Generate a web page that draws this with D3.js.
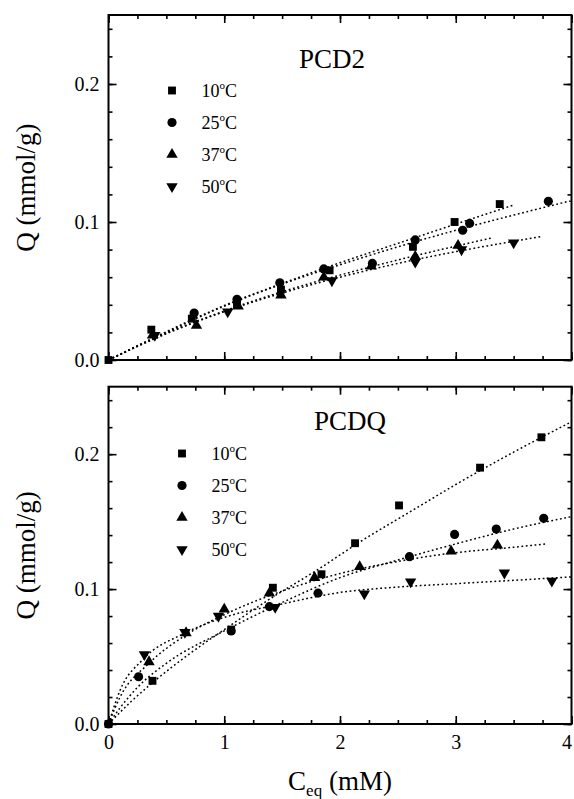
<!DOCTYPE html>
<html>
<head>
<meta charset="utf-8">
<script src="https://cdn.jsdelivr.net/npm/d3@7"></script>
<style>
    body { margin: 0; background: #fff; }
    svg { display: block; font-family: "Liberation Serif", "Times New Roman", serif; }
    svg text { font-family: "Liberation Serif", "Times New Roman", serif; }
</style>
</head>
<body>
<svg id="chart" width="574" height="799"></svg>
<script>
// series labels (temperature, degrees C)
const temps = ['10', '25', '37', '50'];

// PCD2 measured points [Ceq (mM), Q (mmol/g)]
const pcd2_10 = [[0, 0], [0.37, 0.022], [0.72, 0.030], [1.11, 0.040], [1.49, 0.051], [1.91, 0.065], [2.63, 0.082], [2.99, 0.100], [3.38, 0.113]];
const pcd2_25 = [[0.74, 0.034], [1.11, 0.044], [1.48, 0.056], [1.86, 0.066], [2.28, 0.070], [2.65, 0.087], [3.06, 0.094], [3.12, 0.099], [3.80, 0.115]];
const pcd2_37 = [[0.38, 0.018], [0.76, 0.025], [1.12, 0.039], [1.49, 0.047], [1.86, 0.060], [2.27, 0.068], [2.65, 0.075], [3.02, 0.083]];
const pcd2_50 = [[0.40, 0.018], [1.03, 0.035], [1.93, 0.0575], [2.65, 0.071], [3.05, 0.080], [3.50, 0.085]];

// PCD2 fitted curves
const pcd2Fit_10 = [[0, 0], [0.5, 0.0205], [1, 0.0395], [1.5, 0.0555], [2, 0.0705], [2.5, 0.0845], [3, 0.0985], [3.5, 0.1123]];
const pcd2Fit_25 = [[0, 0], [0.5, 0.020], [1, 0.039], [1.5, 0.055], [2, 0.069], [2.5, 0.082], [3, 0.094], [3.5, 0.105], [4, 0.1155]];
const pcd2Fit_37 = [[0, 0], [0.5, 0.0195], [1, 0.0355], [1.5, 0.0495], [2, 0.0615], [2.5, 0.0725], [3, 0.0825], [3.32, 0.0886]];
const pcd2Fit_50 = [[0, 0], [0.5, 0.019], [1, 0.035], [1.5, 0.0485], [2, 0.060], [2.5, 0.070], [3, 0.0785], [3.5, 0.086], [3.73, 0.0894]];

// PCDQ measured points
const pcdq_10 = [[0, 0], [0.38, 0.032], [1.06, 0.070], [1.42, 0.101], [1.84, 0.111], [2.13, 0.134], [2.51, 0.162], [3.21, 0.190], [3.74, 0.2125]];
const pcdq_25 = [[0, 0], [0.26, 0.035], [1.06, 0.069], [1.39, 0.087], [1.81, 0.097], [2.60, 0.124], [2.99, 0.1405], [3.35, 0.1445], [3.76, 0.1525]];
const pcdq_37 = [[0.35, 0.046], [0.67, 0.0675], [1.0, 0.085], [1.39, 0.097], [1.78, 0.1085], [2.17, 0.1165], [2.96, 0.128], [3.36, 0.1325]];
const pcdq_50 = [[0.31, 0.0515], [0.66, 0.068], [0.95, 0.080], [1.44, 0.0865], [2.21, 0.0965], [2.61, 0.1055], [3.42, 0.112], [3.83, 0.106]];

// PCDQ fitted curves
const pcdqFit_10 = [[0, 0], [0.2, 0.017], [0.4, 0.032], [0.7, 0.052], [1.0, 0.070], [1.4, 0.093], [1.8, 0.114], [2.2, 0.1365], [2.6, 0.157], [3.0, 0.1775], [3.5, 0.2015], [4.0, 0.224]];
const pcdqFit_25 = [[0, 0], [0.1, 0.012], [0.26, 0.028], [0.5, 0.045], [1.0, 0.069], [1.5, 0.090], [2.0, 0.1085], [2.5, 0.1215], [3.0, 0.1335], [3.5, 0.1445], [4.0, 0.1537]];
const pcdqFit_37 = [[0, 0], [0.1, 0.020], [0.35, 0.045], [0.67, 0.066], [1.0, 0.081], [1.5, 0.0985], [2.0, 0.1115], [2.5, 0.1205], [3.0, 0.127], [3.5, 0.131], [3.78, 0.1335]];
const pcdqFit_50 = [[0, 0], [0.1, 0.025], [0.3, 0.048], [0.65, 0.067], [1.0, 0.079], [1.5, 0.089], [2.0, 0.0975], [2.5, 0.1015], [3.0, 0.104], [3.5, 0.1065], [4.0, 0.109]];

const xTicks = [0, 1, 2, 3, 4];
const yTicks = [0, 0.1, 0.2];

const svg = d3.select('#chart');

const x = d3.scaleLinear().domain([0, 4]).range([108.5, 571.5]);

const symbols = [
    d3.symbol().type(d3.symbolSquare).size(62),
    d3.symbol().type(d3.symbolCircle).size(66),
    d3.symbol().type(d3.symbolTriangle).size(56),
    d3.symbol().type(d3.symbolTriangle).size(56),
];
const rotation = [0, 0, 0, 180];

const panels = [
    {
        title: 'PCD2', titleX: 332, titleY: 68,
        yRange: [360, 15],
        points: [pcd2_10, pcd2_25, pcd2_37, pcd2_50],
        fits: [pcd2Fit_10, pcd2Fit_25, pcd2Fit_37, pcd2Fit_50],
        legendX: 172, legendY: 90.5, xLabels: false,
    },
    {
        title: 'PCDQ', titleX: 350, titleY: 430,
        yRange: [724, 386.7],
        points: [pcdq_10, pcdq_25, pcdq_37, pcdq_50],
        fits: [pcdqFit_10, pcdqFit_25, pcdqFit_37, pcdqFit_50],
        legendX: 182, legendY: 453.5, xLabels: true,
    },
];

panels.forEach((p) => {
    const y = d3.scaleLinear().domain([0, 0.25]).range(p.yRange);
    const g = svg.append('g');
    const [x0, x1] = x.range();
    const [y0, y1] = y.range();

    // minor + major ticks on all four sides, pointing inward
    const minorX = d3.range(0, 4.001, 0.25);
    const minorY = d3.range(0, 0.2501, 0.02);
    g.append('g').attr('transform', `translate(0,${y0})`)
        .call(d3.axisBottom(x).tickValues(minorX).tickSize(-4).tickFormat(''));
    g.append('g').attr('transform', `translate(0,${y1})`)
        .call(d3.axisTop(x).tickValues(minorX).tickSize(-4).tickFormat(''));
    g.append('g').attr('transform', `translate(${x0},0)`)
        .call(d3.axisLeft(y).tickValues(minorY).tickSize(-4).tickFormat(''));
    g.append('g').attr('transform', `translate(${x1},0)`)
        .call(d3.axisRight(y).tickValues(minorY).tickSize(-4).tickFormat(''));

    g.append('g').attr('class', 'xmajor').attr('transform', `translate(0,${y0})`)
        .call(d3.axisBottom(x).tickValues(xTicks).tickSize(-8).tickPadding(11)
            .tickFormat(p.xLabels ? d3.format('d') : ''));
    g.append('g').attr('transform', `translate(0,${y1})`)
        .call(d3.axisTop(x).tickValues(xTicks).tickSize(-8).tickFormat(''));
    g.append('g').attr('class', 'ymajor').attr('transform', `translate(${x0},0)`)
        .call(d3.axisLeft(y).tickValues(yTicks).tickSize(-8).tickPadding(9).tickFormat(d3.format('.1f')));
    g.append('g').attr('transform', `translate(${x1},0)`)
        .call(d3.axisRight(y).tickValues(yTicks).tickSize(-8).tickFormat(''));

    g.selectAll('.domain').remove();
    g.selectAll('g').attr('font-family', null).attr('font-size', null);
    g.selectAll('.tick line').attr('stroke', '#000').attr('stroke-width', 1.6);
    g.selectAll('.tick text').attr('fill', '#000').attr('font-size', 20);
    // the last x label sits on the window edge; keep it inside
    g.selectAll('.xmajor .tick text').filter((d) => d === 4)
        .attr('text-anchor', 'end').attr('dx', 0);

    g.append('rect')
        .attr('x', x0).attr('y', y1)
        .attr('width', x1 - x0).attr('height', y0 - y1)
        .attr('fill', 'none').attr('stroke', '#000').attr('stroke-width', 2);

    // fitted curves
    const line = d3.line()
        .x((d) => x(d[0]))
        .y((d) => y(d[1]))
        .curve(d3.curveMonotoneX);
    g.selectAll('path.fit')
        .data(p.fits)
        .join('path')
        .attr('class', 'fit')
        .attr('d', line)
        .attr('fill', 'none')
        .attr('stroke', '#000')
        .attr('stroke-width', 1.5)
        .attr('stroke-dasharray', '1.8 2.6');

    // measured points
    p.points.forEach((series, i) => {
        g.selectAll(null)
            .data(series)
            .join('path')
            .attr('d', symbols[i])
            .attr('transform', (d) => `translate(${x(d[0])},${y(d[1])}) rotate(${rotation[i]})`)
            .attr('fill', '#000');
    });

    // panel title
    g.append('text')
        .attr('x', p.titleX).attr('y', p.titleY)
        .attr('text-anchor', 'middle')
        .attr('font-size', 27)
        .text(p.title);

    // legend
    temps.forEach((t, i) => {
        const ly = p.legendY + i * 32;
        g.append('path')
            .attr('d', symbols[i])
            .attr('transform', `translate(${p.legendX},${ly}) rotate(${rotation[i]})`)
            .attr('fill', '#000');
        const txt = g.append('text')
            .attr('x', p.legendX + 29.5).attr('y', ly + 6.5)
            .attr('font-size', 18);
        txt.append('tspan').text(t);
        txt.append('tspan').attr('font-size', 11).attr('dy', -8).text('o');
        txt.append('tspan').attr('dy', 8).text('C');
    });

    // y axis title
    const cy = (y0 + y1) / 2;
    svg.append('text')
        .attr('transform', `translate(35,${cy}) rotate(-90)`)
        .attr('text-anchor', 'middle')
        .attr('font-size', 27)
        .text('Q (mmol/g)');
});

// x axis title
const xt = svg.append('text')
    .attr('x', 340).attr('y', 790)
    .attr('text-anchor', 'middle')
    .attr('font-size', 27);
xt.append('tspan').text('C');
xt.append('tspan').attr('font-size', 17).attr('dy', 6).text('eq');
xt.append('tspan').attr('dy', -6).text(' (mM)');
</script>
</body>
</html>
